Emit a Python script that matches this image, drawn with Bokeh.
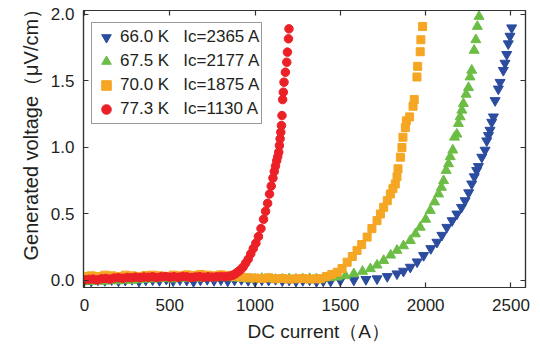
from bokeh.plotting import figure
from bokeh.models import (Range1d, LinearAxis, FixedTicker, NumeralTickFormatter,
                          CustomJSTickFormatter, Title)
from bokeh.embed import file_html
from bokeh.resources import INLINE

# ---------------- data ----------------
x_ticks = [0, 500, 1000, 1500, 2000, 2500]
y_ticks = [0.0, 0.5, 1.0, 1.5, 2.0]
x_title = "DC current（A）"
y_title = "Generated voltage（μV/cm）"

labels = ["66.0 K\u00a0\u00a0\u00a0Ic=2365 A", "67.5 K\u00a0\u00a0\u00a0Ic=2177 A",
          "70.0 K\u00a0\u00a0\u00a0Ic=1875 A", "77.3 K\u00a0\u00a0\u00a0Ic=1130 A"]

# 66.0 K (blue)
I_66 = [0, 40, 80, 120, 160, 200, 240, 280, 320, 360, 400, 440, 480, 520, 560, 600, 640, 680,
        720, 760, 800, 840, 880, 920, 960, 1000, 1040, 1080, 1120, 1160, 1200, 1240, 1280, 1320,
        1360, 1400,
        1443, 1500, 1579, 1650, 1715, 1775, 1832, 1870, 1910, 1950, 1988, 2030, 2066, 2095, 2124,
        2155, 2183, 2210, 2231, 2252, 2270, 2285, 2299, 2309, 2329, 2348, 2358, 2368, 2377, 2387,
        2397, 2407, 2426, 2436, 2455, 2465, 2475, 2484, 2494, 2504]
V_66 = [0.0, -0.005, 0.004, 0.0, 0.006, -0.004, 0.002, 0.008, -0.006, 0.003, 0.005, 0.0, 0.01,
        -0.003, 0.006, 0.002, -0.008, 0.004, 0.008, 0.0, 0.005, -0.004, 0.003, 0.007, 0.0, -0.005,
        0.004, 0.002, 0.008, -0.002, 0.003, -0.006, 0.0, 0.004, -0.008, -0.004,
        -0.005, 0.0, 0.003, 0.008, 0.013, 0.03, 0.05, 0.07, 0.10, 0.14, 0.188, 0.24, 0.288, 0.34,
        0.40, 0.45, 0.50, 0.55, 0.60, 0.66, 0.726, 0.78, 0.827, 0.857, 0.927, 0.98, 1.05, 1.09,
        1.13, 1.19, 1.23, 1.353, 1.44, 1.49, 1.58, 1.634, 1.70, 1.78, 1.837, 1.90]

# 67.5 K (green)
I_675 = [0, 40, 80, 120, 160, 200, 240, 280, 320, 360, 400, 440, 480, 520, 560, 600, 640, 680,
         720, 760, 800, 840, 880, 920, 960, 1000, 1040, 1080, 1120, 1160, 1200, 1240, 1280, 1320,
         1360, 1400, 1440,
         1482, 1530, 1579, 1630, 1676, 1715, 1754, 1795, 1832, 1870, 1910, 1940, 1968, 2000, 2027,
         2052, 2076, 2092, 2105, 2120, 2134, 2144, 2159, 2169, 2183, 2192, 2202, 2212, 2221, 2237,
         2251, 2260, 2270, 2284, 2294, 2303, 2313]
V_675 = [-0.01, -0.008, -0.005, -0.006, 0.0, -0.004, 0.002, 0.0, 0.005, 0.008, 0.01, 0.012,
         0.015, 0.01, 0.018, 0.014, 0.02, 0.016, 0.022, 0.018, 0.025, 0.02, 0.018, 0.015, 0.012,
         0.01, 0.015, 0.012, 0.008, 0.01, 0.012, 0.009, 0.011, 0.014, 0.012, 0.016, 0.02,
         0.025, 0.035, 0.05, 0.068, 0.088, 0.115, 0.15, 0.19, 0.226, 0.26, 0.30, 0.35, 0.40, 0.46,
         0.526, 0.59, 0.65, 0.70, 0.75, 0.827, 0.877, 0.93, 0.98, 1.077, 1.10, 1.18, 1.23, 1.28,
         1.33, 1.40, 1.45, 1.53, 1.58, 1.73, 1.81, 1.91, 1.985]

# 70.0 K (orange)
I_70 = [0, 40, 80, 120, 160, 200, 240, 280, 320, 360, 400, 440, 480, 520, 560, 600, 640, 680,
        720, 760, 800, 840, 880, 920, 960, 1000, 1040, 1080, 1120, 1160, 1200, 1240, 1280, 1320,
        1360,
        1384, 1420, 1450, 1482, 1510, 1540, 1570, 1598, 1625, 1657, 1685, 1715, 1735, 1754, 1775,
        1793, 1808, 1822, 1832, 1838, 1852, 1861, 1867, 1881, 1887, 1906, 1926, 1933, 1949, 1953,
        1968, 1972, 1982]
V_70 = [0.03, 0.035, 0.03, 0.04, 0.035, 0.03, 0.04, 0.035, 0.03, 0.038, 0.04, 0.035, 0.03, 0.04,
        0.035, 0.042, 0.038, 0.045, 0.04, 0.035, 0.042, 0.038, 0.03, 0.025, 0.02, 0.018, 0.015,
        0.02, 0.012, 0.015, 0.01, 0.012, 0.015, 0.01, 0.012,
        0.013, 0.03, 0.045, 0.062, 0.09, 0.137, 0.18, 0.226, 0.27, 0.326, 0.39, 0.45, 0.50, 0.55,
        0.60, 0.65, 0.69, 0.726, 0.78, 0.84, 0.927, 1.0, 1.077, 1.15, 1.2, 1.23, 1.31, 1.36, 1.53,
        1.61, 1.72, 1.81, 1.91]

# 77.3 K (red)
I_773 = [0, 25, 50, 75, 100, 125, 150, 175, 200, 225, 250, 275, 300, 325, 350, 375, 400, 425,
         450, 475, 500, 525, 550, 575, 600, 625, 650, 675, 700, 725, 750, 775, 800, 825, 850,
         870, 885, 900, 915, 930, 945, 960, 975, 990, 1005, 1020, 1035, 1050, 1062, 1074, 1085,
         1095, 1105, 1113, 1120, 1127, 1133, 1139, 1143, 1147, 1151, 1155, 1158, 1162, 1166,
         1170, 1178, 1186, 1190, 1196, 1199]
V_773 = [0.005, 0.008, 0.01, 0.004, 0.012, 0.015, 0.01, 0.018, 0.02, 0.016, 0.022, 0.02, 0.025,
         0.021, 0.026, 0.024, 0.028, 0.022, 0.027, 0.03, 0.025, 0.028, 0.024, 0.03, 0.027, 0.022,
         0.026, 0.029, 0.024, 0.028, 0.025, 0.027, 0.03, 0.028, 0.032,
         0.04, 0.05, 0.065, 0.08, 0.10, 0.13, 0.16, 0.20, 0.24, 0.28, 0.33, 0.39, 0.46, 0.52,
         0.58, 0.65, 0.71, 0.77, 0.82, 0.86, 0.90, 0.93, 0.965, 1.015, 1.065, 1.115, 1.165, 1.24,
         1.36, 1.416, 1.491, 1.566, 1.641, 1.717, 1.817, 1.892]

# ---------------- styling ----------------
FONT = "Liberation Sans"
INK = "#231f20"
AXC = "#333333"
C_BLUE, C_GREEN, C_ORANGE, C_RED = "#2b4c9f", "#6cbd45", "#f5a623", "#ec2127"

p = figure(width=540, height=347, x_range=Range1d(-5, 2585), y_range=Range1d(-0.053, 2.03),
           output_backend="svg", toolbar_location=None,
           min_border_left=83, min_border_right=15, min_border_top=10, min_border_bottom=60)
p.xgrid.visible = False
p.ygrid.visible = False
p.outline_line_color = AXC
p.outline_line_width = 1.2

p.scatter(I_66, V_66, marker="inverted_triangle", size=10, color=C_BLUE, legend_label=labels[0])
p.scatter(I_675, V_675, marker="triangle", size=10, color=C_GREEN, legend_label=labels[1])
p.scatter(I_70, V_70, marker="square", size=8, color=C_ORANGE, legend_label=labels[2])
p.scatter(I_773, V_773, marker="circle", size=8.5, color=C_RED, legend_label=labels[3])

for ax, ticks in ((p.xaxis[0], x_ticks), (p.yaxis[0], y_ticks)):
    ax.ticker = FixedTicker(ticks=ticks)
    ax.major_tick_in = 5
    ax.major_tick_out = 0
    ax.minor_tick_line_color = None
    ax.axis_line_color = AXC
    ax.axis_line_width = 1.2
    ax.major_tick_line_color = AXC
    ax.major_tick_line_width = 1.2
    ax.major_label_text_font = FONT
    ax.major_label_text_font_size = "17px"
    ax.major_label_text_color = INK

p.yaxis[0].formatter = NumeralTickFormatter(format="0.0")
p.xaxis[0].major_label_standoff = 11
p.yaxis[0].major_label_standoff = 9

# axis titles as side titles (allow offset along the axis)
yt = Title(text=y_title, align="left", offset=27, text_font=FONT, text_font_size="20px",
           text_font_style="normal", text_color=INK, standoff=11)
p.add_layout(yt, "left")
xt = Title(text=x_title, align="left", offset=164, text_font=FONT, text_font_size="19px",
           text_font_style="normal", text_color=INK, standoff=11)
p.add_layout(xt, "below")

# mirrored inner ticks on top and right
for side, ticks in (("above", x_ticks), ("right", y_ticks)):
    ax = LinearAxis(ticker=FixedTicker(ticks=ticks), major_tick_in=5, major_tick_out=0,
                    minor_tick_line_color=None, axis_line_color=AXC, axis_line_width=1.2,
                    major_tick_line_color=AXC, major_tick_line_width=1.2,
                    formatter=CustomJSTickFormatter(code="return ''"),
                    major_label_text_font_size="1px", major_label_standoff=0)
    p.add_layout(ax, side)

lg = p.legend[0]
lg.location = (8, 163)
lg.border_line_color = AXC
lg.border_line_width = 1
lg.background_fill_color = "white"
lg.background_fill_alpha = 1
lg.padding = 2
lg.spacing = 0
lg.margin = 0
lg.glyph_height = 24
lg.glyph_width = 24
lg.label_height = 24
lg.label_standoff = 2
lg.label_text_font = FONT
lg.label_text_font_size = "17px"
lg.label_text_color = INK

open("out.html", "w").write(file_html(p, INLINE))
